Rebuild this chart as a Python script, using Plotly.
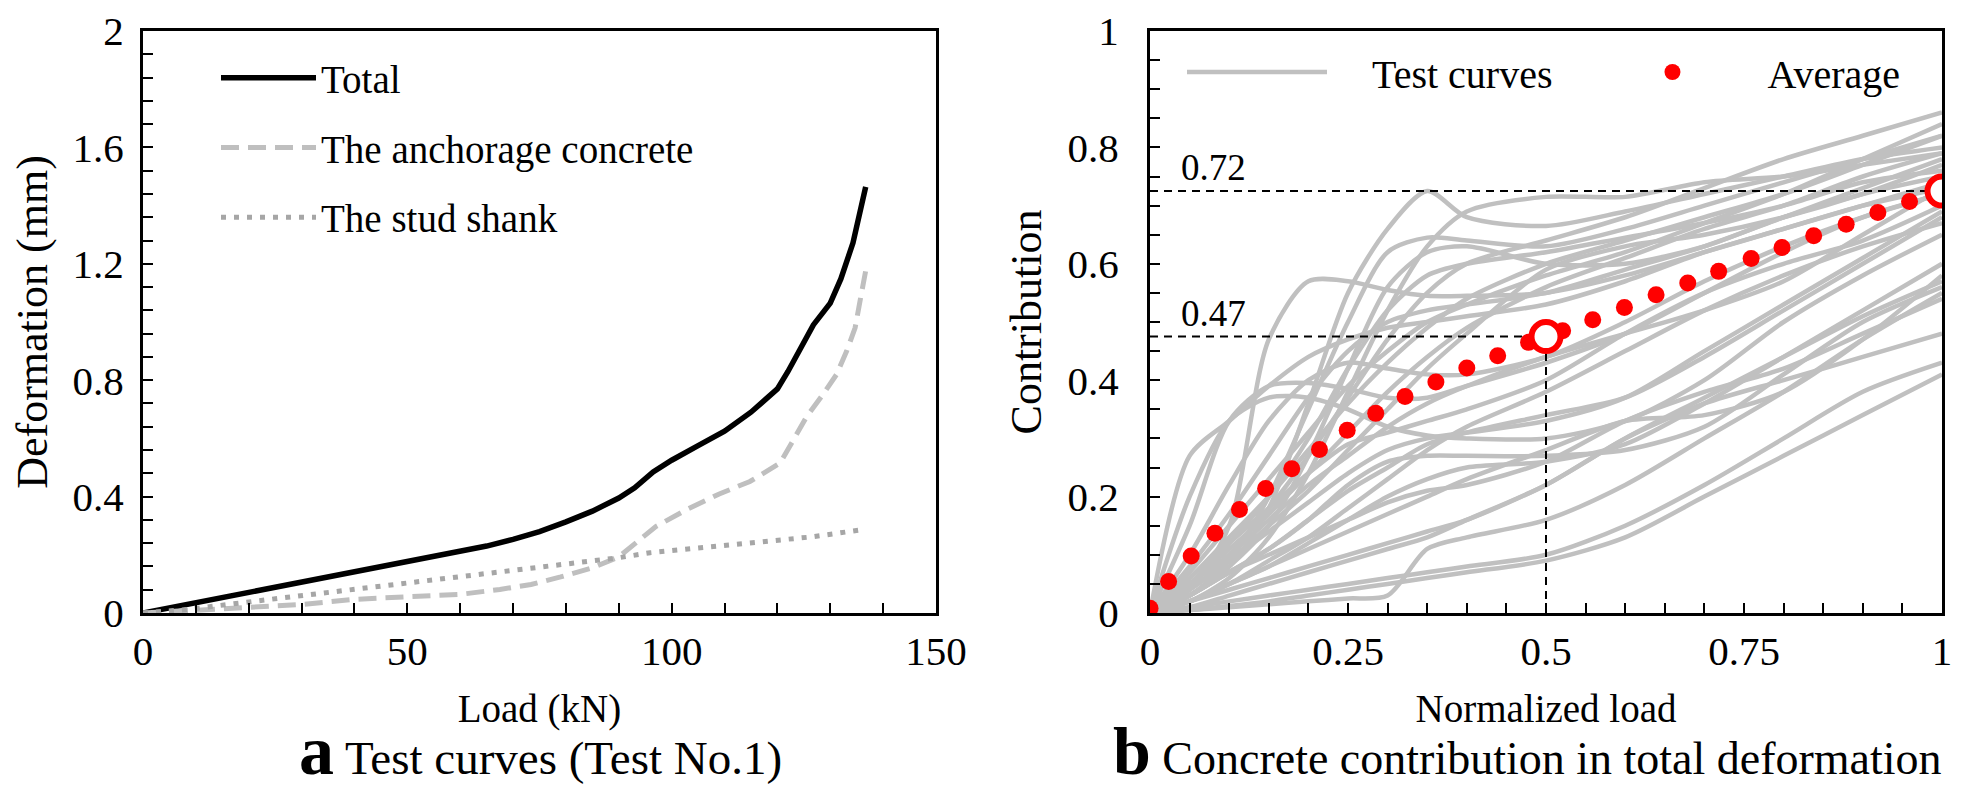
import plotly.graph_objects as go

# ---------------- Panel a : test curves (Test No.1) ----------------
load_total = [0, 10, 20, 30, 40, 50, 60, 65, 70, 75, 80, 85, 90, 93, 96.5, 100, 105, 110,
              115, 117, 120, 122, 124, 126.8, 130, 132, 134.3, 135.5, 136.7]
def_total = [0, 0.035, 0.072, 0.105, 0.14, 0.175, 0.21, 0.23, 0.253, 0.28, 0.313, 0.35, 0.395,
             0.43, 0.485, 0.525, 0.575, 0.625, 0.69, 0.72, 0.77, 0.83, 0.90, 0.99, 1.065, 1.148,
             1.272, 1.36, 1.464]

load_anch = [0, 8.3, 20, 30, 40, 50, 60, 67.5, 73.4, 79, 85, 90, 92.3, 97, 103, 109, 114.8,
             120.5, 123, 125.5, 128.7, 131.2, 133.1, 134.7, 135.6, 136.7]
def_anch = [0, 0.009, 0.021, 0.029, 0.047, 0.055, 0.064, 0.081, 0.098, 0.124, 0.155, 0.193,
            0.228, 0.297, 0.357, 0.409, 0.452, 0.515, 0.594, 0.674, 0.753, 0.82, 0.90, 0.98,
            1.069, 1.176]

load_stud = [0, 8.3, 20, 32, 43.8, 55.6, 67.5, 79.4, 90, 95.9, 103, 114.8, 126.7, 136.7]
def_stud = [0, 0.012, 0.038, 0.064, 0.09, 0.116, 0.14, 0.167, 0.19, 0.207, 0.22, 0.242, 0.262,
            0.288]

x_ticks_a = [0, 50, 100, 150]
y_ticks_a = [0, 0.4, 0.8, 1.2, 1.6, 2]

# ---------------- Panel b : concrete contribution ----------------
norm_load = [0, 0.05, 0.1, 0.15, 0.2, 0.25, 0.3, 0.35, 0.4, 0.5, 0.6, 0.7, 0.8, 0.9, 1.0]

tc01 = [0, 0.03, 0.08, 0.18, 0.36, 0.55, 0.66, 0.725, 0.68, 0.665, 0.69, 0.72, 0.75, 0.78, 0.80]
tc02 = [0, 0.02, 0.06, 0.13, 0.24, 0.38, 0.52, 0.63, 0.69, 0.715, 0.715, 0.74, 0.75, 0.77, 0.79]
tc03 = [0, 0.03, 0.09, 0.20, 0.35, 0.50, 0.62, 0.645, 0.64, 0.63, 0.66, 0.70, 0.74, 0.78, 0.82]
tc04 = [0, 0.04, 0.15, 0.47, 0.57, 0.57, 0.555, 0.545, 0.545, 0.55, 0.58, 0.62, 0.66, 0.70, 0.74]
tc05 = [0, 0.15, 0.33, 0.39, 0.395, 0.385, 0.37, 0.37, 0.39, 0.43, 0.48, 0.55, 0.62, 0.68, 0.72]
tc06 = [0, 0.27, 0.33, 0.39, 0.44, 0.47, 0.49, 0.50, 0.51, 0.53, 0.57, 0.62, 0.66, 0.70, 0.73]
tc07 = [0, 0.20, 0.33, 0.37, 0.37, 0.35, 0.32, 0.305, 0.30, 0.30, 0.33, 0.40, 0.50, 0.58, 0.65]
tc08 = [0, 0.10, 0.22, 0.33, 0.40, 0.43, 0.42, 0.41, 0.41, 0.44, 0.50, 0.57, 0.63, 0.68, 0.72]
tc09 = [0, 0.06, 0.13, 0.20, 0.28, 0.36, 0.43, 0.49, 0.54, 0.60, 0.64, 0.68, 0.72, 0.77, 0.82]
tc10 = [0, 0.05, 0.11, 0.17, 0.24, 0.31, 0.38, 0.44, 0.49, 0.56, 0.61, 0.66, 0.70, 0.75, 0.79]
tc11 = [0, 0.07, 0.15, 0.23, 0.31, 0.39, 0.45, 0.50, 0.53, 0.58, 0.62, 0.67, 0.72, 0.78, 0.84]
tc12 = [0, 0.04, 0.09, 0.15, 0.21, 0.28, 0.35, 0.42, 0.48, 0.59, 0.63, 0.65, 0.68, 0.72, 0.77]
tc13 = [0, 0.08, 0.17, 0.27, 0.37, 0.45, 0.50, 0.52, 0.53, 0.55, 0.59, 0.63, 0.68, 0.73, 0.78]
tc14 = [0, 0.05, 0.12, 0.20, 0.30, 0.42, 0.52, 0.58, 0.60, 0.62, 0.645, 0.67, 0.70, 0.74, 0.76]
tc15 = [0, 0.04, 0.10, 0.18, 0.27, 0.37, 0.47, 0.55, 0.60, 0.64, 0.68, 0.73, 0.78, 0.82, 0.86]
tc16 = [0, 0.03, 0.08, 0.15, 0.27, 0.42, 0.56, 0.62, 0.63, 0.60, 0.60, 0.63, 0.68, 0.72, 0.75]
tc17 = [0, 0.03, 0.07, 0.11, 0.16, 0.21, 0.25, 0.29, 0.31, 0.34, 0.37, 0.44, 0.52, 0.60, 0.68]
tc18 = [0, 0.04, 0.09, 0.14, 0.19, 0.24, 0.28, 0.30, 0.31, 0.33, 0.37, 0.45, 0.53, 0.61, 0.69]
tc19 = [0, 0.02, 0.05, 0.09, 0.13, 0.18, 0.23, 0.28, 0.32, 0.38, 0.45, 0.52, 0.58, 0.63, 0.67]
tc20 = [0, 0.06, 0.12, 0.18, 0.24, 0.29, 0.31, 0.33, 0.35, 0.40, 0.48, 0.55, 0.60, 0.64, 0.70]
tc21 = [0, 0.005, 0.012, 0.02, 0.03, 0.04, 0.05, 0.06, 0.07, 0.09, 0.13, 0.20, 0.27, 0.34, 0.41]
tc22 = [0, 0.02, 0.04, 0.06, 0.08, 0.10, 0.12, 0.14, 0.16, 0.22, 0.30, 0.36, 0.40, 0.44, 0.48]
tc23 = [0, 0.005, 0.01, 0.015, 0.02, 0.025, 0.03, 0.11, 0.13, 0.16, 0.22, 0.30, 0.38, 0.47, 0.55]
tc24 = [0, 0.02, 0.05, 0.08, 0.12, 0.16, 0.20, 0.23, 0.25, 0.26, 0.29, 0.36, 0.44, 0.52, 0.60]
tc25 = [0, 0.01, 0.03, 0.05, 0.07, 0.09, 0.11, 0.13, 0.16, 0.22, 0.30, 0.37, 0.44, 0.51, 0.57]
tc26 = [0, 0.03, 0.07, 0.10, 0.13, 0.16, 0.19, 0.21, 0.22, 0.26, 0.33, 0.38, 0.42, 0.48, 0.54]
tc27 = [0, 0.01, 0.02, 0.03, 0.04, 0.05, 0.06, 0.07, 0.08, 0.10, 0.15, 0.22, 0.30, 0.38, 0.43]
tc28 = [0, 0.02, 0.05, 0.08, 0.11, 0.14, 0.17, 0.20, 0.23, 0.28, 0.33, 0.34, 0.38, 0.47, 0.58]
tc29 = [0, 0.03, 0.07, 0.11, 0.16, 0.22, 0.26, 0.27, 0.27, 0.27, 0.28, 0.32, 0.41, 0.50, 0.56]
tc30 = [0, 0.05, 0.10, 0.16, 0.22, 0.27, 0.32, 0.36, 0.39, 0.44, 0.48, 0.52, 0.57, 0.65, 0.73]
test_curves = [tc01, tc02, tc03, tc04, tc05, tc06, tc07, tc08, tc09, tc10,
               tc11, tc12, tc13, tc14, tc15, tc16, tc17, tc18, tc19, tc20,
               tc21, tc22, tc23, tc24, tc25, tc26, tc27, tc28, tc29, tc30]

avg_x = [0, 0.0235, 0.052, 0.082, 0.113, 0.146, 0.179, 0.214, 0.249, 0.285, 0.322, 0.361,
         0.40, 0.439, 0.478, 0.521, 0.559, 0.599, 0.639, 0.679, 0.718, 0.759, 0.798, 0.838,
         0.879, 0.919, 0.959]
avg_y = [0.008, 0.054, 0.098, 0.137, 0.178, 0.214, 0.248, 0.281, 0.314, 0.343, 0.372, 0.397,
         0.421, 0.442, 0.465, 0.485, 0.504, 0.525, 0.547, 0.567, 0.587, 0.609, 0.628, 0.648,
         0.668, 0.688, 0.707]

key_x = [0.5, 1.0]
key_y = [0.475, 0.725]
key_labels = ["0.47", "0.72"]

x_ticks_b = [0, 0.25, 0.5, 0.75, 1]
y_ticks_b = [0, 0.2, 0.4, 0.6, 0.8, 1]

# ---------------- figure ----------------
FONT = "Liberation Serif, Times New Roman, serif"
OFF = 8                       # default page body margin
FW, FH = 1961 - 2 * OFF, 799 - 2 * OFF


def fx(X):
    """screen pixel -> paper fraction"""
    return (X - OFF) / FW


def fy(Y):
    return (FH - (Y - OFF)) / FH


NBSP = "\u00a0"
fig = go.Figure()

# panel a
fig.add_trace(go.Scatter(x=load_total, y=def_total, mode="lines", name="Total",
                         line=dict(color="black", width=5.5), legend="legend",
                         legendgroup="g1"))
fig.add_trace(go.Scatter(x=load_anch, y=def_anch, mode="lines", name="The anchorage concrete",
                         line=dict(color="#bfbfbf", width=5, dash="18px,9px"),
                         legend="legend", legendgroup="g2"))
fig.add_trace(go.Scatter(x=load_stud, y=def_stud, mode="lines", name="The stud shank",
                         line=dict(color="#a6a6a6", width=5, dash="5px,8px"),
                         legend="legend", legendgroup="g3"))

# panel b : test curves
for i, ys in enumerate(test_curves):
    fig.add_trace(go.Scatter(x=norm_load, y=ys, mode="lines",
                             name=NBSP * 4 + "Test curves" + NBSP * 4,
                             line=dict(color="#c0c0c0", width=4.5, shape="spline", smoothing=0.8),
                             xaxis="x2", yaxis="y2", legend="legend2",
                             legendgroup="tc", showlegend=(i == 0)))

# guide lines
guide = dict(color="black", width=2, dash="8px,6px")
fig.add_trace(go.Scatter(x=[x_ticks_b[0], key_x[1]], y=[key_y[1], key_y[1]], mode="lines",
                         line=guide, xaxis="x2", yaxis="y2", showlegend=False, hoverinfo="skip"))
fig.add_trace(go.Scatter(x=[x_ticks_b[0], key_x[0]], y=[key_y[0], key_y[0]], mode="lines",
                         line=guide, xaxis="x2", yaxis="y2", showlegend=False, hoverinfo="skip"))
fig.add_trace(go.Scatter(x=[key_x[0], key_x[0]], y=[y_ticks_b[0], key_y[0]], mode="lines",
                         line=guide, xaxis="x2", yaxis="y2", showlegend=False, hoverinfo="skip"))

# average
fig.add_trace(go.Scatter(x=avg_x, y=avg_y, mode="markers", name=NBSP * 2 + "Average",
                         marker=dict(color="#ff0000", size=17),
                         xaxis="x2", yaxis="y2", legend="legend2", legendgroup="avg"))
fig.add_trace(go.Scatter(x=key_x, y=key_y, mode="markers",
                         marker=dict(color="white", size=29, line=dict(color="#ff0000", width=6)),
                         xaxis="x2", yaxis="y2", showlegend=False))

ybot, ytop = fy(613), fy(31)
tick_common = dict(ticks="inside", ticklen=10, tickwidth=2, tickcolor="black",
                   showline=True, linecolor="black", linewidth=3, mirror=True,
                   showgrid=False, zeroline=False, tickfont=dict(size=41, family=FONT),
                   tickmode="array", automargin=False, ticklabeloverflow="allow")
minor_common = dict(tick0=0, ticks="inside", ticklen=10, tickwidth=2, tickcolor="black")

fig.update_layout(
    template="none",
    width=FW, height=FH,
    margin=dict(l=0, r=0, t=0, b=0, autoexpand=False),
    paper_bgcolor="white", plot_bgcolor="white",
    font=dict(family=FONT, size=38, color="black"),
    xaxis=dict(domain=[fx(143), fx(936)], range=[0, 150], anchor="y",
               tickvals=x_ticks_a, minor=dict(dtick=10, **minor_common),
               ticklabelstandoff=0,
               title=dict(text="Load (kN)", font=dict(size=39), standoff=22),
               **tick_common),
    yaxis=dict(domain=[ybot, ytop], range=[0, 2], anchor="x",
               tickvals=y_ticks_a, minor=dict(dtick=0.08, **minor_common),
               ticklabelstandoff=8,
               title=dict(text="Deformation (mm)", font=dict(size=44), standoff=34),
               **tick_common),
    xaxis2=dict(domain=[fx(1150), fx(1942)], range=[0, 1], anchor="y2",
                tickvals=x_ticks_b, minor=dict(dtick=0.05, **minor_common),
                ticklabelstandoff=0,
                title=dict(text="Normalized load", font=dict(size=39), standoff=22),
                **tick_common),
    yaxis2=dict(domain=[ybot, ytop], range=[0, 1], anchor="x2",
                tickvals=y_ticks_b, minor=dict(dtick=0.05, **minor_common),
                ticklabelstandoff=20,
                title=dict(text="Contribution", font=dict(size=44), standoff=13),
                **tick_common),
    legend=dict(x=fx(216), y=fy(46), xanchor="left", yanchor="top",
                font=dict(size=39), bgcolor="rgba(0,0,0,0)", traceorder="grouped",
                tracegroupgap=16, itemwidth=95),
    legend2=dict(x=fx(1182), y=fy(72), xanchor="left", yanchor="middle",
                 orientation="h", font=dict(size=40), bgcolor="rgba(0,0,0,0)",
                 itemwidth=140),
)

# guide labels
for kx, ky, lab in zip(key_x, key_y, key_labels):
    fig.add_annotation(x=0.037, y=ky + 0.04, xref="x2", yref="y2", text=lab,
                       showarrow=False, xanchor="left", yanchor="middle",
                       font=dict(size=37, family=FONT))

# panel captions
fig.add_annotation(x=fx(540), y=0, xref="paper", yref="paper",
                   text="<b><span style='font-size:70px'>a</span></b> Test curves (Test No.1)",
                   showarrow=False, xanchor="center", yanchor="bottom",
                   font=dict(size=47, family=FONT))
fig.add_annotation(x=fx(1527), y=0, xref="paper", yref="paper",
                   text="<b><span style='font-size:68px'>b</span></b> Concrete contribution in total deformation",
                   showarrow=False, xanchor="center", yanchor="bottom",
                   font=dict(size=46, family=FONT))

fig.write_html("out.html")
